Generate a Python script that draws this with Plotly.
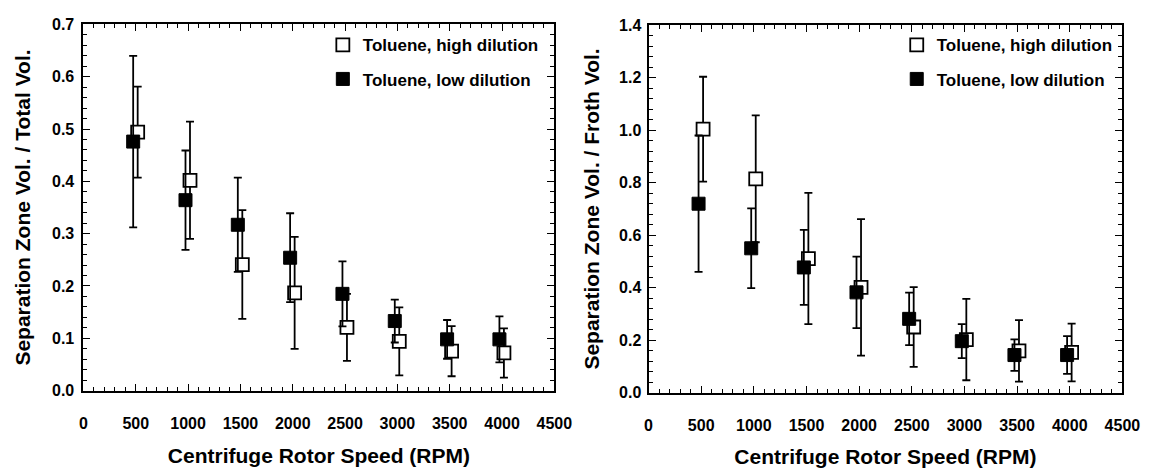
import plotly.graph_objects as go

speeds = [500, 1000, 1500, 2000, 2500, 3000, 3500, 4000]
x_ticks = [0, 500, 1000, 1500, 2000, 2500, 3000, 3500, 4000, 4500]

# Left panel: Separation zone vol / total vol
high_total = [0.494, 0.402, 0.241, 0.187, 0.121, 0.094, 0.0755, 0.072]
high_total_err = [0.087, 0.112, 0.104, 0.107, 0.064, 0.065, 0.048, 0.047]
low_total = [0.476, 0.364, 0.317, 0.254, 0.185, 0.133, 0.098, 0.098]
low_total_err = [0.164, 0.095, 0.090, 0.085, 0.062, 0.041, 0.037, 0.044]

# Right panel: Separation zone vol / froth vol
high_froth = [1.004, 0.815, 0.511, 0.401, 0.250, 0.202, 0.159, 0.153]
high_froth_err = [0.200, 0.242, 0.250, 0.260, 0.152, 0.155, 0.117, 0.110]
low_froth = [0.720, 0.550, 0.477, 0.382, 0.281, 0.196, 0.143, 0.143]
low_froth_err = [0.260, 0.152, 0.143, 0.136, 0.100, 0.065, 0.060, 0.072]

names = ["Toluene, high dilution", "Toluene, low dilution"]

HIGH_SHIFT = 18
LOW_SHIFT = -25

FONT = "Liberation Sans, Arial, sans-serif"
BLACK = "#000000"

x_high = [s + HIGH_SHIFT for s in speeds]
x_low = [s + LOW_SHIFT for s in speeds]

fig = go.Figure()

def err(arr):
    return dict(type="data", array=arr, visible=True, color=BLACK,
                thickness=1.8, width=4)

open_marker = dict(symbol="square", size=13, color="white",
                   line=dict(color=BLACK, width=1.8))
filled_marker = dict(symbol="square", size=13, color=BLACK,
                     line=dict(color=BLACK, width=1))

# Left panel
fig.add_trace(go.Scatter(x=x_high, y=high_total, mode="markers", name=names[0],
                         marker=open_marker, error_y=err(high_total_err),
                         xaxis="x", yaxis="y", legend="legend", legendgroup="a"))
fig.add_trace(go.Scatter(x=x_low, y=low_total, mode="markers", name=names[1],
                         marker=filled_marker, error_y=err(low_total_err),
                         xaxis="x", yaxis="y", legend="legend", legendgroup="b"))
# Right panel
fig.add_trace(go.Scatter(x=x_high, y=high_froth, mode="markers", name=names[0],
                         marker=open_marker, error_y=err(high_froth_err),
                         xaxis="x2", yaxis="y2", legend="legend2", legendgroup="c"))
fig.add_trace(go.Scatter(x=x_low, y=low_froth, mode="markers", name=names[1],
                         marker=filled_marker, error_y=err(low_froth_err),
                         xaxis="x2", yaxis="y2", legend="legend2", legendgroup="d"))

tickfont = dict(family=FONT, size=16, color=BLACK, weight="bold")
titlefont = dict(family=FONT, size=21, color=BLACK, weight="bold")

def xaxis(domain, anchor):
    return dict(domain=domain, anchor=anchor, range=[0, 4500],
                tickmode="array", tickvals=x_ticks, ticktext=[str(t) for t in x_ticks],
                ticks="inside", ticklen=7, tickwidth=1.2, tickcolor=BLACK,
                minor=dict(dtick=100, ticks="inside", ticklen=4, tickwidth=1, tickcolor=BLACK),
                showline=True, linecolor=BLACK, linewidth=2, mirror="allticks",
                showgrid=False, zeroline=False, tickfont=tickfont,
                ticklabelstandoff=17,
                title=dict(text="Centrifuge Rotor Speed (RPM)", font=titlefont, standoff=17))

def yaxis(domain, anchor, rng, dtick, minor, title, standoff, lblgap):
    return dict(domain=domain, anchor=anchor, range=rng, dtick=dtick, tick0=0,
                tickformat=".1f",
                ticks="inside", ticklen=7, tickwidth=1.2, tickcolor=BLACK,
                minor=dict(dtick=minor, ticks="inside", ticklen=4, tickwidth=1, tickcolor=BLACK),
                showline=True, linecolor=BLACK, linewidth=2, mirror="allticks",
                showgrid=False, zeroline=False, tickfont=tickfont,
                ticklabelstandoff=lblgap,
                title=dict(text=title, font=titlefont, standoff=standoff))

legend_common = dict(bgcolor="rgba(0,0,0,0)", borderwidth=0,
                     font=dict(family=FONT, size=17, color=BLACK, weight="bold"),
                     tracegroupgap=9, itemwidth=30, xanchor="left", yanchor="top")

fig.update_layout(
    width=1160, height=470,
    margin=dict(l=0, r=0, t=0, b=0),
    paper_bgcolor="white", plot_bgcolor="white",
    showlegend=True,
    xaxis=xaxis([81 / 1160, 561 / 1160], "y"),
    yaxis=yaxis([(470 - 397) / 470, (470 - 17) / 470], "x", [0, 0.7], 0.1, 0.02,
                "Separation Zone Vol. / Total Vol.", 16, 4),
    xaxis2=xaxis([657 / 1160, 1140 / 1160], "y2"),
    yaxis2=yaxis([(470 - 399) / 470, (470 - 18) / 470], "x2", [0, 1.4], 0.2, 0.04,
                 "Separation Zone Vol. / Froth Vol.", 14, 2),
    legend=dict(x=325 / 1160, y=(470 - 20) / 470, **legend_common),
    legend2=dict(x=910 / 1160, y=(470 - 20) / 470, **legend_common),
)

fig.write_html("out.html")
